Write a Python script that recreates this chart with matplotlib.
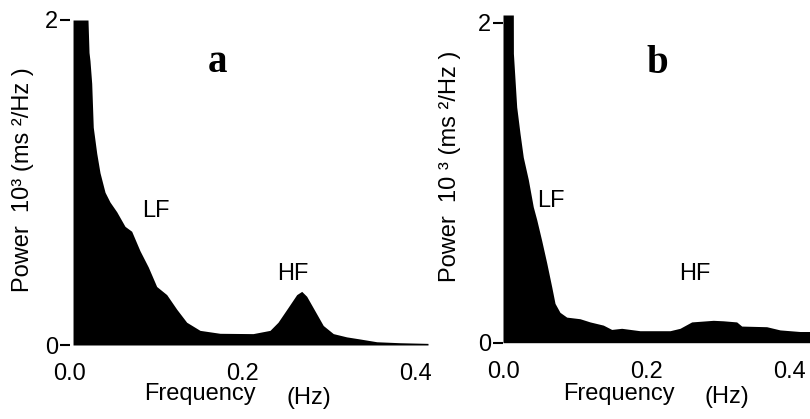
import matplotlib
matplotlib.use("Agg")
import matplotlib.pyplot as plt

plt.rcParams['font.family'] = ['Liberation Sans', 'DejaVu Sans']

# Panel a spectrum (frequency in Hz, power in 10^3 ms^2/Hz)
freq_a = [0.0035, 0.0208, 0.0220, 0.0231, 0.0251, 0.0269, 0.0309, 0.0347, 0.0405,
          0.0462, 0.0540, 0.0636, 0.0713, 0.0809, 0.0905, 0.1002, 0.1118, 0.1234,
          0.1349, 0.1503, 0.1734, 0.2116, 0.2312, 0.2405, 0.2520, 0.2621, 0.2679,
          0.2736, 0.2832, 0.2928, 0.3044, 0.3198, 0.3353, 0.3546, 0.3815, 0.4139]
power_a = [2.0, 2.0, 1.80, 1.75, 1.61, 1.34, 1.18, 1.06, 0.94,
           0.88, 0.82, 0.73, 0.70, 0.58, 0.48, 0.36, 0.31, 0.22,
           0.14, 0.09, 0.072, 0.07, 0.09, 0.14, 0.23, 0.31, 0.33,
           0.30, 0.21, 0.12, 0.07, 0.05, 0.037, 0.02, 0.014, 0.01]

# Panel b spectrum
freq_b = [0.0, 0.0144, 0.0145, 0.0191, 0.0237, 0.0283, 0.0353, 0.0422, 0.0470,
          0.0539, 0.0609, 0.0679, 0.0725, 0.0794, 0.0888, 0.1073, 0.1213, 0.1398,
          0.1515, 0.1654, 0.1909, 0.2328, 0.2467, 0.2630, 0.2931, 0.3070, 0.3257,
          0.3327, 0.3675, 0.3861, 0.4139, 0.4279]
power_b = [2.05, 2.05, 1.81, 1.475, 1.31, 1.16, 1.02, 0.85, 0.77,
           0.64, 0.50, 0.35, 0.246, 0.19, 0.16, 0.15, 0.13, 0.11,
           0.083, 0.09, 0.075, 0.075, 0.09, 0.13, 0.14, 0.137, 0.13,
           0.104, 0.10, 0.08, 0.07, 0.07]

xticks = [0.0, 0.2, 0.4]
xticklabels = ["0.0", "0.2", "0.4"]
yticks = [0, 2]
yticklabels = ["0", "2"]

W, H = 810, 419
fig = plt.figure(figsize=(W / 100, H / 100), dpi=100)

def px_axes(left, right, top, bottom):
    return fig.add_axes([left / W, (H - bottom) / H, (right - left) / W, (bottom - top) / H])

ax_a = px_axes(70, 428, 20, 345)
ax_b = px_axes(503, 810, 15, 342.7)

fs = 17
for ax, f, p, xmax, ymax in [(ax_a, freq_a, power_a, 0.4139, 2.0),
                              (ax_b, freq_b, power_b, 0.4279, 2.05)]:
    ax.fill_between(f, 0, p, color='black', linewidth=0)
    ax.set_xlim(0, xmax)
    ax.set_ylim(0, ymax)
    for s in ax.spines.values():
        s.set_visible(False)
    ax.set_xticks(xticks)
    ax.set_xticklabels(xticklabels, fontsize=fs)
    ax.set_yticks(yticks)
    ax.set_yticklabels(yticklabels, fontsize=fs)
    ax.tick_params(axis='x', length=0, pad=13)
    ax.tick_params(axis='y', length=7, width=1.5, direction='out', pad=1.5)
    ax.patch.set_alpha(0)

# labels inside panels
ax_a.text(0.170, 1.68, "a", family=['Liberation Serif'], fontweight='bold',
          fontsize=28, ha='center', va='baseline')
ax_a.text(0.0994, 0.788, "LF", fontsize=fs, ha='center', va='baseline')
ax_a.text(0.2578, 0.40, "HF", fontsize=fs, ha='center', va='baseline')

ax_b.text(0.2146, 1.686, "b", family=['Liberation Serif'], fontweight='bold',
          fontsize=28, ha='center', va='baseline')
ax_b.text(0.0669, 0.848, "LF", fontsize=fs, ha='center', va='baseline')
ax_b.text(0.2676, 0.392, "HF", fontsize=fs, ha='center', va='baseline')

# axis titles
fig.text(23 / W, (H - 180) / H, "Power  10³ (ms ²/Hz )", rotation=90,
         fontsize=fs, ha='center', va='center')
fig.text(450 / W, (H - 166) / H, "Power  10 ³ (ms ²/Hz )", rotation=90,
         fontsize=fs, ha='center', va='center')

fig.text(200 / W, (H - 400) / H, "Frequency", fontsize=fs, ha='center', va='baseline')
fig.text(309 / W, (H - 404) / H, "(Hz)", fontsize=fs, ha='center', va='baseline')
fig.text(619 / W, (H - 400) / H, "Frequency", fontsize=fs, ha='center', va='baseline')
fig.text(727 / W, (H - 403) / H, "(Hz)", fontsize=fs, ha='center', va='baseline')

fig.savefig("out.png", dpi=100, facecolor='white')
